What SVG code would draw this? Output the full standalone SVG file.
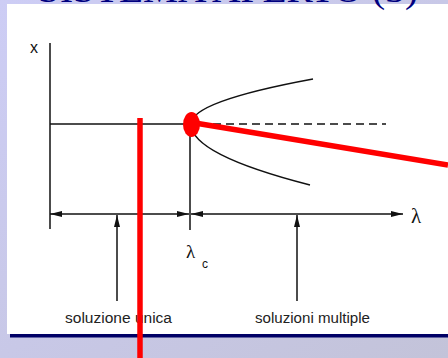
<svg xmlns="http://www.w3.org/2000/svg" width="448" height="358" viewBox="0 0 448 358">
  <defs>
    <linearGradient id="bg" x1="0" y1="0" x2="1" y2="1">
      <stop offset="0" stop-color="#cdcdf5"/>
      <stop offset="1" stop-color="#c3c3d9"/>
    </linearGradient>
    <marker id="ah" viewBox="0 0 12 6" refX="12" refY="3" markerWidth="12" markerHeight="6" markerUnits="userSpaceOnUse" orient="auto-start-reverse">
      <path d="M0,0 L12,3 L0,6 Z" fill="#111"/>
    </marker>
    <style>
      .ln { stroke: #111; stroke-width: 1.5; fill: none; }
      .red { stroke: #ff0000; stroke-width: 5.5; fill: none; }
      .lbl { font-family: "Liberation Sans", Arial, sans-serif; font-size: 14px; fill: #222; }
      .greek { font-family: "Liberation Serif", "DejaVu Serif", serif; fill: #111; }
    </style>
  </defs>
  <rect x="0" y="0" width="448" height="358" fill="url(#bg)"/>
  <rect x="7" y="4" width="441" height="330" fill="#ffffff"/>
  <rect x="10" y="334" width="438" height="3.5" fill="#000066"/>
  <text x="38" y="2" font-family="Liberation Serif, serif" font-size="38" fill="#000080" textLength="380" lengthAdjust="spacingAndGlyphs">SISTEMA APERTO (3)</text>

  <g id="connectors">
    <line class="ln" x1="50" y1="43" x2="50" y2="229"/>
    <line class="ln" x1="50" y1="124" x2="186" y2="124"/>
    <line class="ln" x1="200" y1="124" x2="386" y2="124" stroke-dasharray="8 5"/>
    <path class="ln" d="M191,124 Q191,101.5 313,79"/>
    <path class="ln" d="M191,124 Q191,154.5 310,185"/>
    <line class="ln" x1="190" y1="130" x2="190" y2="230"/>
    <line class="ln" x1="50" y1="214" x2="189" y2="214" marker-start="url(#ah)" marker-end="url(#ah)"/>
    <line class="ln" x1="191" y1="214" x2="403" y2="214" marker-start="url(#ah)" marker-end="url(#ah)"/>
    <line class="ln" x1="117" y1="301" x2="117" y2="215" marker-end="url(#ah)"/>
    <line class="ln" x1="297" y1="301" x2="297" y2="215" marker-end="url(#ah)"/>
  </g>

  <g id="axis-x"><text x="30" y="53" font-family="Liberation Sans, Arial, sans-serif" font-size="16" fill="#111">x</text></g>
  <g id="axis-lambda"><text class="greek" x="411" y="223" font-size="21">λ</text></g>
  <g id="lambda-c"><text class="greek" x="186" y="258" font-size="19">λ</text><text x="202" y="268" font-family="Liberation Sans, Arial, sans-serif" font-size="12" fill="#111">c</text></g>
  <g id="soluzione-unica"><text class="lbl" x="65" y="323" textLength="107" lengthAdjust="spacingAndGlyphs">soluzione unica</text></g>
  <g id="soluzioni-multiple"><text class="lbl" x="255" y="323" textLength="115" lengthAdjust="spacingAndGlyphs">soluzioni multiple</text></g>

  <g id="red-overlay">
    <line class="red" x1="140" y1="118" x2="140" y2="358"/>
    <line class="red" x1="198" y1="123.5" x2="448" y2="165"/>
    <ellipse cx="191.5" cy="124.5" rx="8.5" ry="12.5" fill="#ff0000"/>
  </g>
</svg>
